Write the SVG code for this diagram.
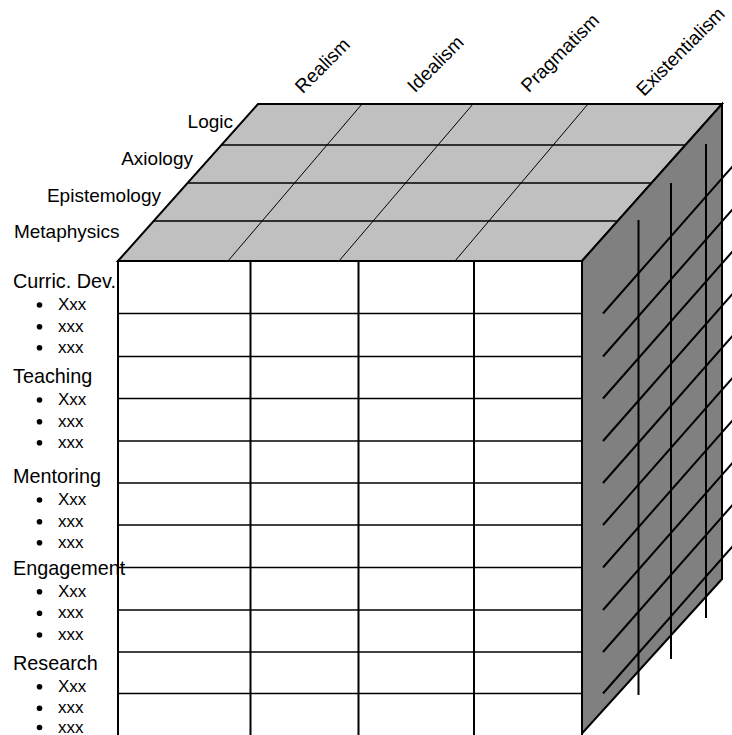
<svg xmlns="http://www.w3.org/2000/svg" width="732" height="735" viewBox="0 0 732 735">
<style>
text{font-family:"Liberation Sans",Arial,sans-serif;fill:#000}
.h{font-size:19.8px}
.b{font-size:17px}
.col{font-size:19px}
.row{font-size:19px}
.edge{fill:none;stroke:#000;stroke-width:2;stroke-linejoin:miter}
.thin{stroke:#000;stroke-width:1}
.med{stroke:#000;stroke-width:1.5}
.thick{stroke:#000;stroke-width:2}
</style>
<rect width="732" height="735" fill="#fff"/>

<g id="top-face">
  <polygon points="118,261 258,104 722,104 582,261" fill="#C0C0C0"/>
  <line class="med" x1="221.4" y1="145" x2="685.4" y2="145"/>
  <line class="med" x1="187.6" y1="183" x2="651.6" y2="183"/>
  <line class="med" x1="153.7" y1="221" x2="617.7" y2="221"/>
  <line class="thin" x1="362" y1="104" x2="228" y2="261"/>
  <line class="thin" x1="473" y1="104" x2="339" y2="261"/>
  <line class="thin" x1="588" y1="104" x2="455" y2="261"/>
  <polygon class="edge" points="118,261 258,104 722,104 582,261"/>
</g>

<g id="front-face">
  <rect x="118" y="261" width="464" height="480" fill="#fff"/>
  <g class="med">
    <line x1="118" y1="313.5" x2="582" y2="313.5"/>
    <line x1="118" y1="356.5" x2="582" y2="356.5"/>
    <line x1="118" y1="398.5" x2="582" y2="398.5"/>
    <line x1="118" y1="441" x2="582" y2="441"/>
    <line x1="118" y1="483" x2="582" y2="483"/>
    <line x1="118" y1="525" x2="582" y2="525"/>
    <line x1="118" y1="567.5" x2="582" y2="567.5"/>
    <line x1="118" y1="610" x2="582" y2="610"/>
    <line x1="118" y1="652" x2="582" y2="652"/>
    <line x1="118" y1="693.5" x2="582" y2="693.5"/>
  </g>
  <g class="thick">
    <line x1="250.5" y1="261" x2="250.5" y2="736"/>
    <line x1="358.5" y1="261" x2="358.5" y2="736"/>
    <line x1="474" y1="261" x2="474" y2="736"/>
  </g>
  <polyline class="edge" points="118,736 118,261 582,261 582,736"/>
</g>

<g id="right-face">
  <polygon points="582,261 722,104 722,579 582,733.5" fill="#808080"/>
  <g class="thick">
    <line x1="603" y1="313.5" x2="740" y2="158"/>
    <line x1="603" y1="356.5" x2="740" y2="201"/>
    <line x1="603" y1="398.5" x2="740" y2="243"/>
    <line x1="603" y1="441" x2="740" y2="285.5"/>
    <line x1="603" y1="483" x2="740" y2="327.5"/>
    <line x1="603" y1="525" x2="740" y2="369.5"/>
    <line x1="603" y1="567.5" x2="740" y2="412"/>
    <line x1="603" y1="610" x2="740" y2="454.5"/>
    <line x1="603" y1="652" x2="740" y2="496.5"/>
    <line x1="603" y1="693.5" x2="740" y2="538"/>
    <line x1="638.5" y1="220" x2="638.5" y2="695"/>
    <line x1="671" y1="183" x2="671" y2="659"/>
    <line x1="706" y1="144" x2="706" y2="618"/>
  </g>
  <polygon class="edge" points="582,261 722,104 722,579 582,733.5"/>
</g>

<g id="column-labels" class="col" text-anchor="middle">
  <text transform="translate(327,70) rotate(-45)">Realism</text>
  <text transform="translate(440,68.5) rotate(-45)">Idealism</text>
  <text transform="translate(564.5,57.5) rotate(-45)">Pragmatism</text>
  <text transform="translate(685,56) rotate(-45)">Existentialism</text>
</g>

<g id="depth-labels" class="row" text-anchor="end">
  <text x="233" y="128">Logic</text>
  <text x="193" y="165">Axiology</text>
  <text x="161" y="201.5">Epistemology</text>
  <text x="119.5" y="238">Metaphysics</text>
</g>

<g id="row-labels">
  <g id="curric">
    <text class="h" x="13" y="288">Curric. Dev.</text>
    <circle cx="39.5" cy="305" r="2.8"/><text class="b" x="58" y="310">Xxx</text>
    <circle cx="39.5" cy="326.7" r="2.8"/><text class="b" x="58" y="331.7">xxx</text>
    <circle cx="39.5" cy="347.7" r="2.8"/><text class="b" x="58" y="352.7">xxx</text>
  </g>
  <g id="teaching">
    <text class="h" x="13" y="383.3">Teaching</text>
    <circle cx="39.5" cy="400" r="2.8"/><text class="b" x="58" y="405">Xxx</text>
    <circle cx="39.5" cy="421.7" r="2.8"/><text class="b" x="58" y="426.7">xxx</text>
    <circle cx="39.5" cy="442.7" r="2.8"/><text class="b" x="58" y="447.7">xxx</text>
  </g>
  <g id="mentoring">
    <text class="h" x="13" y="482.7">Mentoring</text>
    <circle cx="39.5" cy="500" r="2.8"/><text class="b" x="58" y="505">Xxx</text>
    <circle cx="39.5" cy="521.7" r="2.8"/><text class="b" x="58" y="526.7">xxx</text>
    <circle cx="39.5" cy="542.7" r="2.8"/><text class="b" x="58" y="547.7">xxx</text>
  </g>
  <g id="engagement">
    <text class="h" x="13" y="575">Engagement</text>
    <circle cx="39.5" cy="591.7" r="2.8"/><text class="b" x="58" y="596.7">Xxx</text>
    <circle cx="39.5" cy="613.3" r="2.8"/><text class="b" x="58" y="618.3">xxx</text>
    <circle cx="39.5" cy="635" r="2.8"/><text class="b" x="58" y="640">xxx</text>
  </g>
  <g id="research">
    <text class="h" x="13" y="670">Research</text>
    <circle cx="39.5" cy="686.7" r="2.8"/><text class="b" x="58" y="691.7">Xxx</text>
    <circle cx="39.5" cy="708.3" r="2.8"/><text class="b" x="58" y="713.3">xxx</text>
    <circle cx="39.5" cy="727.5" r="2.8"/><text class="b" x="58" y="732.5">xxx</text>
  </g>
</g>
</svg>
